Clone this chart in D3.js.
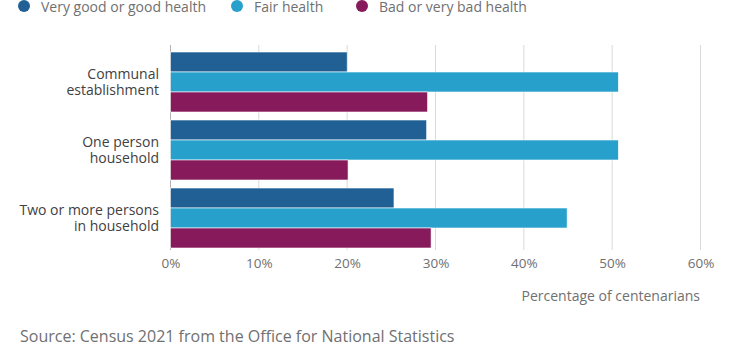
<!DOCTYPE html>
<html><head><meta charset="utf-8">
<script src="https://cdn.jsdelivr.net/npm/d3@7"></script>
<style>body{margin:0;background:#fff;}svg{display:block;font-family:"Open Sans",sans-serif;}</style>
</head><body><svg id="c" width="730" height="358"></svg>
<script>
const categories = [["Communal","establishment"],["One person","household"],["Two or more persons","in household"]];
const seriesNames = ["Very good or good health","Fair health","Bad or very bad health"];
const seriesColors = ["#206095","#27a0cc","#871a5b"];
const veryGood = [20.0, 29.0, 25.3];
const fair = [50.7, 50.7, 44.9];
const bad = [29.1, 20.1, 29.5];
const tickValues = [0,10,20,30,40,50,60];
const series = [veryGood, fair, bad];

const svg = d3.select("#c");
const x = d3.scaleLinear().domain([0,60]).range([170.5,700.5]);
const y = d3.scaleBand().domain(d3.range(categories.length)).range([48,252]).paddingInner(8/68).paddingOuter(4/68);
const ySub = d3.scaleBand().domain(d3.range(series.length)).range([0,y.bandwidth()]);

// gridlines
svg.append("g").selectAll("line").data(tickValues).join("line")
  .attr("x1",d=>x(d)).attr("x2",d=>x(d)).attr("y1",45).attr("y2",250)
  .attr("stroke",d=>d===0?"#b3b3b3":"#d9d9d9").attr("stroke-width",1);

// bars
const g = svg.append("g");
categories.forEach((c,i)=>{
  series.forEach((s,j)=>{
    g.append("rect").attr("x",x(0)).attr("y",y(i)+ySub(j))
      .attr("width",x(s[i])-x(0)).attr("height",ySub.bandwidth())
      .attr("fill",seriesColors[j]).attr("stroke","#fff").attr("stroke-width",0.6);
  });
});

// x axis labels
const xAxis = d3.axisBottom(x).tickValues(tickValues).tickFormat(d=>d+"%").tickSize(0).tickPadding(0);
const ax = svg.append("g").attr("transform","translate(0,258)").call(xAxis);
ax.select(".domain").remove();
ax.selectAll("text").attr("font-size",13.5).attr("fill","#707071").attr("font-family","Open Sans").attr("dy","0.71em");

// y labels
const yl = svg.append("g");
categories.forEach((c,i)=>{
  const cy = y(i)+y.bandwidth()/2;
  const t = yl.append("text").attr("x",159).attr("y",cy-8).attr("text-anchor","end")
    .attr("font-size",14).attr("fill","#414042");
  c.forEach((line,k)=>t.append("tspan").attr("x",159).attr("y",cy-8+16*k).attr("dy","0.35em").text(line));
});

// axis title
svg.append("text").attr("x",700).attr("y",296).attr("text-anchor","end").attr("dy","0.35em")
  .attr("font-size",14).attr("fill","#707071").text("Percentage of centenarians");

// legend
const legX = [24,237,362];
seriesNames.forEach((n,j)=>{
  svg.append("circle").attr("cx",legX[j]).attr("cy",6).attr("r",6).attr("fill",seriesColors[j]);
  svg.append("text").attr("x",legX[j]+17).attr("y",7).attr("dy","0.35em").attr("font-size",14)
    .attr("fill","#707071").text(n);
});

// source
svg.append("text").attr("x",20).attr("y",336).attr("dy","0.35em").attr("font-size",16)
  .attr("fill","#707071").text("Source: Census 2021 from the Office for National Statistics");
</script></body></html>
